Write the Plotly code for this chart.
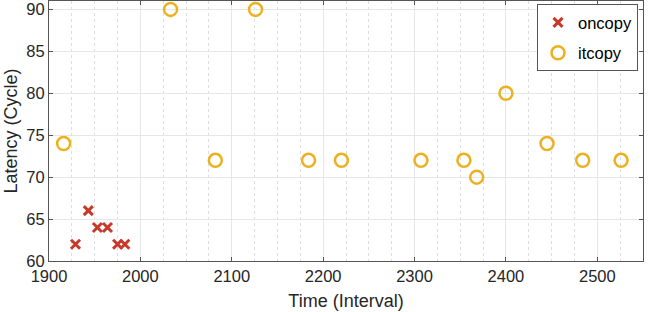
import plotly.graph_objects as go

oncopy_x = [1929, 1943, 1953, 1964, 1975, 1983]
oncopy_y = [62, 66, 64, 64, 62, 62]

itcopy_x = [1916, 2033, 2082, 2126, 2184, 2220, 2307, 2354, 2368, 2400, 2445, 2484, 2526]
itcopy_y = [74, 90, 72, 90, 72, 72, 72, 72, 70, 80, 74, 72, 72]

x_ticks = [1900, 2000, 2100, 2200, 2300, 2400, 2500]
y_ticks = [60, 65, 70, 75, 80, 85, 90]

FONT = "Liberation Sans, Arial, Helvetica, sans-serif"
AX = "#262626"

fig = go.Figure()
fig.add_trace(go.Scatter(
    x=oncopy_x, y=oncopy_y, mode="markers", name="oncopy",
    legendgroup="a",
    marker=dict(symbol="x-thin", size=9, color="#C8392A",
                line=dict(width=3, color="#C8392A")),
))
fig.add_trace(go.Scatter(
    x=itcopy_x, y=itcopy_y, mode="markers", name="itcopy",
    legendgroup="b",
    marker=dict(symbol="circle-open", size=13, color="#EDB120",
                line=dict(width=2.5, color="#EDB120")),
))

axis_common = dict(
    showline=True, linecolor="#555555", linewidth=1, mirror="ticks",
    ticks="inside", ticklen=4, tickcolor="#555555",
    showgrid=True, gridcolor="#E6E6E6", gridwidth=1,
    zeroline=False, automargin=False,
    tickfont=dict(family=FONT, size=16.5, color=AX),
    title_font=dict(family=FONT, size=18, color=AX),
)

fig.update_xaxes(
    range=[1900, 2550], tickvals=x_ticks,
    title_text="Time (Interval)", title_standoff=10,
    minor=dict(dtick=25, tick0=1900, showgrid=True, gridcolor="#DDDDDD",
               griddash="dot", ticks=""),
    **axis_common,
)
fig.update_yaxes(
    range=[60, 91], tickvals=y_ticks,
    title_text="Latency (Cycle)", title_standoff=4,
    **axis_common,
)

fig.update_layout(
    width=664, height=312,
    margin=dict(l=49, r=21, t=1, b=51),
    plot_bgcolor="white", paper_bgcolor="white",
    font=dict(family=FONT, size=16.5, color=AX),
    legend=dict(
        x=0.9916, y=0.988, xanchor="right", yanchor="top",
        bgcolor="white", bordercolor="#555555", borderwidth=1,
        font=dict(family=FONT, size=16.5, color="#000000"),
        traceorder="grouped", tracegroupgap=6,
        itemwidth=30,
    ),
)

fig.write_html("out.html",
               config={"displayModeBar": False},
               post_script="document.body.style.margin='0px';document.body.style.overflow='hidden';")
